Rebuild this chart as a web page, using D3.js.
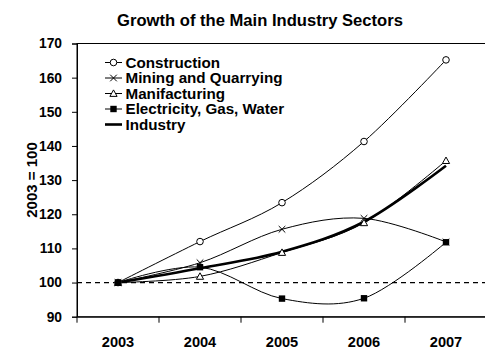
<!DOCTYPE html>
<html>
<head>
<meta charset="utf-8">
<script src="https://cdn.jsdelivr.net/npm/d3@7/dist/d3.min.js"></script>
<style>
  html, body { margin: 0; padding: 0; background: #fff; }
  svg { display: block; font-family: Arial, "Liberation Sans", sans-serif; }
</style>
</head>
<body>
<svg id="chart" width="485" height="352"></svg>
<script>
// Index values, 2003 = 100
const years = ["2003", "2004", "2005", "2006", "2007"];
const construction = [100, 112.0, 123.4, 141.3, 165.2];
const mining = [100, 105.8, 115.6, 118.8, 111.9];
const manufacturing = [100, 101.8, 108.8, 117.5, 135.7];
const electricity = [100, 104.5, 95.3, 95.4, 111.8];
const industry = [100, 104.2, 109.0, 117.8, 134.2];
const yTicks = [90, 100, 110, 120, 130, 140, 150, 160, 170];
const seriesNames = ["Construction", "Mining and Quarrying", "Manifacturing", "Electricity, Gas, Water", "Industry"];

const svg = d3.select("#chart");
const margin = { left: 77, top: 43.5, right: 487, bottom: 316.7 };
const FONT = "Arial, 'Liberation Sans', sans-serif";

const x = d3.scaleBand().domain(years).range([margin.left, margin.right]);
const y = d3.scaleLinear().domain([90, 170]).range([margin.bottom, margin.top]);

// Title
svg.append("text")
  .attr("x", 260).attr("y", 26)
  .attr("text-anchor", "middle")
  .attr("font-size", 16.6).attr("font-weight", "bold")
  .text("Growth of the Main Industry Sectors");

// Plot frame
svg.append("rect")
  .attr("x", margin.left).attr("y", margin.top)
  .attr("width", margin.right - margin.left)
  .attr("height", margin.bottom - margin.top)
  .attr("fill", "none").attr("stroke", "#000").attr("stroke-width", 1);

// Y axis
const yAxis = svg.append("g")
  .attr("transform", `translate(${margin.left},0)`)
  .call(d3.axisLeft(y).tickValues(yTicks).tickSize(5).tickPadding(10));
yAxis.selectAll("text").attr("font-size", 13.8).attr("font-weight", "bold")
  .attr("font-family", FONT).attr("fill", "#000");
yAxis.selectAll("line, path").attr("stroke", "#000");

// X axis with ticks at category boundaries
const xAxis = svg.append("g")
  .attr("transform", `translate(0,${margin.bottom})`)
  .call(d3.axisBottom(x).tickSize(0).tickPadding(0));
xAxis.selectAll("text")
  .attr("dy", null).attr("y", 30)
  .attr("font-size", 14.6).attr("font-weight", "bold")
  .attr("font-family", FONT).attr("fill", "#000");
xAxis.select("path").attr("stroke", "#000");
const bounds = years.map(d => x(d)).concat([x(years[years.length - 1]) + x.bandwidth()]);
xAxis.selectAll(".bound").data(bounds).enter().append("line")
  .attr("x1", d => d).attr("x2", d => d)
  .attr("y1", 0).attr("y2", 6)
  .attr("stroke", "#000");

// Y axis title
svg.append("text")
  .attr("transform", `translate(36.5,180) rotate(-90)`)
  .attr("text-anchor", "middle")
  .attr("font-size", 15).attr("font-weight", "bold")
  .text("2003 = 100");

// Reference line at 100
svg.append("line")
  .attr("x1", margin.left).attr("x2", margin.right)
  .attr("y1", y(100)).attr("y2", y(100))
  .attr("stroke", "#000").attr("stroke-width", 1.3)
  .attr("stroke-dasharray", "5,4");

const cx = d => x(d) + x.bandwidth() / 2;
const line = d3.line()
  .x((d, i) => cx(years[i]))
  .y(d => y(d))
  .curve(d3.curveCatmullRom.alpha(0));

const series = [
  { name: seriesNames[0], values: construction, marker: "circle", width: 1 },
  { name: seriesNames[1], values: mining, marker: "cross", width: 1 },
  { name: seriesNames[2], values: manufacturing, marker: "triangle", width: 1 },
  { name: seriesNames[3], values: electricity, marker: "square", width: 1 },
  { name: seriesNames[4], values: industry, marker: "none", width: 2.6 }
];

function drawMarker(g, type, px, py) {
  if (type === "circle") {
    g.append("circle").attr("cx", px).attr("cy", py).attr("r", 3.3)
      .attr("fill", "#fff").attr("stroke", "#000").attr("stroke-width", 1);
  } else if (type === "cross") {
    const s = 3.3;
    g.append("path")
      .attr("d", `M${px - s},${py - s}L${px + s},${py + s}M${px - s},${py + s}L${px + s},${py - s}`)
      .attr("stroke", "#000").attr("stroke-width", 1).attr("fill", "none");
  } else if (type === "triangle") {
    const s = 3.6;
    g.append("path")
      .attr("d", `M${px},${py - s}L${px + s},${py + s * 0.8}L${px - s},${py + s * 0.8}Z`)
      .attr("fill", "#fff").attr("stroke", "#000").attr("stroke-width", 1);
  } else if (type === "square") {
    const s = 3.2;
    g.append("rect").attr("x", px - s).attr("y", py - s)
      .attr("width", 2 * s).attr("height", 2 * s).attr("fill", "#000");
  }
}

const plot = svg.append("g");
series.forEach(s => {
  plot.append("path")
    .attr("d", line(s.values))
    .attr("fill", "none").attr("stroke", "#000").attr("stroke-width", s.width);
});
series.forEach(s => {
  const g = plot.append("g");
  s.values.forEach((v, i) => drawMarker(g, s.marker, cx(years[i]), y(v)));
});

// Legend
const legend = svg.append("g");
series.forEach((s, i) => {
  const ly = 62.5 + i * 15.5;
  legend.append("line")
    .attr("x1", 105).attr("x2", 122).attr("y1", ly).attr("y2", ly)
    .attr("stroke", "#000").attr("stroke-width", s.width === 1 ? 1 : 2.6);
  drawMarker(legend, s.marker, 113.5, ly);
  legend.append("text")
    .attr("x", 125.5).attr("y", ly + 5.3)
    .attr("font-size", 15.2).attr("font-weight", "bold")
    .text(s.name);
});
</script>
</body>
</html>
